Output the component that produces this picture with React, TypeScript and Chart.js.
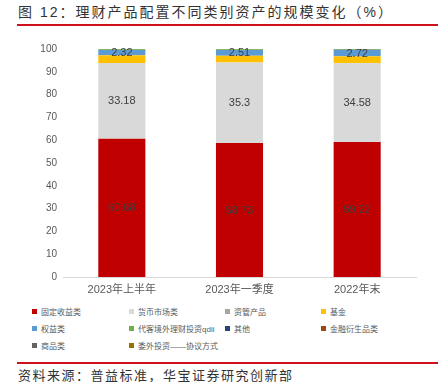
import React, { useEffect, useRef } from "react";
import { Chart, registerables } from "chart.js";

Chart.register(...registerables);

const categories = ["2023年上半年", "2023年一季度", "2022年末"];
const seriesNames = [
  "固定收益类",
  "货币市场类",
  "资管产品",
  "基金",
  "权益类",
  "代客境外理财投资qdii",
  "其他",
  "金融衍生品类",
  "商品类",
  "委外投资——协议方式",
];
const seriesColors = [
  "#C00000",
  "#D9D9D9",
  "#A5A5A5",
  "#FFC000",
  "#5B9BD5",
  "#70AD47",
  "#264478",
  "#9E480E",
  "#636363",
  "#997300",
];
const fixedIncome = [60.68, 58.73, 59.22];
const moneyMarket = [33.18, 35.3, 34.58];
const assetMgmt = [0.05, 0.05, 0.05];
const funds = [3.32, 2.95, 2.95];
const equity = [2.32, 2.51, 2.72];
const qdii = [0.3, 0.3, 0.3];
const others = [0.1, 0.1, 0.1];
const derivatives = [0.02, 0.02, 0.02];
const commodities = [0.01, 0.01, 0.01];
const outsourced = [0.02, 0.02, 0.02];
const seriesValues = [
  fixedIncome,
  moneyMarket,
  assetMgmt,
  funds,
  equity,
  qdii,
  others,
  derivatives,
  commodities,
  outsourced,
];
const labeledSeries = [0, 1, 4];
const yTicks = [0, 10, 20, 30, 40, 50, 60, 70, 80, 90, 100];

const FONT = '"Liberation Sans", "Noto Sans CJK SC", sans-serif';

const labelPlugin = {
  id: "segLabels",
  afterDatasetsDraw(chart: any) {
    const ctx = chart.ctx;
    ctx.save();
    ctx.font = `11px ${FONT}`;
    ctx.fillStyle = "#404040";
    ctx.textAlign = "center";
    ctx.textBaseline = "middle";
    labeledSeries.forEach((di) => {
      const meta = chart.getDatasetMeta(di);
      meta.data.forEach((bar: any, i: number) => {
        const y = (bar.y + bar.base) / 2;
        ctx.fillText(String(seriesValues[di][i]), bar.x, y + 0.5);
      });
    });
    ctx.restore();
  },
};

export default function App() {
  const ref = useRef<HTMLCanvasElement | null>(null);
  useEffect(() => {
    if (!ref.current) return;
    const chart = new Chart(ref.current, {
      type: "bar",
      data: {
        labels: categories,
        datasets: seriesNames.map((name, i) => ({
          label: name,
          data: seriesValues[i],
          backgroundColor: seriesColors[i],
          borderWidth: 0,
          categoryPercentage: 1,
          barPercentage: 0.4,
        })),
      },
      options: {
        animation: false,
        responsive: false,
        devicePixelRatio: 1,
        layout: { padding: { left: 0, right: 23, top: 13, bottom: 0 } },
        plugins: {
          legend: { display: false },
          tooltip: { enabled: false },
          title: { display: false },
        },
        scales: {
          x: {
            stacked: true,
            grid: { display: false, drawTicks: false },
            border: { display: true, color: "#D9D9D9", width: 1 },
            ticks: {
              color: "#595959",
              font: { family: FONT, size: 11 },
              padding: 6,
            },
            afterFit: (s: any) => {
              s.height = 23;
            },
          },
          y: {
            stacked: true,
            min: 0,
            max: 100,
            afterBuildTicks: (s: any) => {
              s.ticks = yTicks.map((v) => ({ value: v }));
            },
            grid: { display: false, drawTicks: false },
            border: { display: false },
            ticks: {
              color: "#595959",
              font: { family: FONT, size: 10 },
              padding: 6,
            },
            afterFit: (s: any) => {
              s.width = 63;
            },
          },
        },
      },
      plugins: [labelPlugin],
    });
    return () => chart.destroy();
  }, []);

  const colX = [32, 129, 225, 321];
  const rowY = [311, 328, 345];

  return (
    <div
      style={{
        position: "fixed",
        left: 0,
        top: 0,
        width: 439,
        height: 382,
        background: "#fff",
        overflow: "hidden",
        fontFamily: FONT,
      }}
    >
      <div
        style={{
          position: "absolute",
          left: 18,
          top: 3,
          fontSize: 14,
          letterSpacing: 2,
          color: "#333",
          whiteSpace: "nowrap",
          lineHeight: "18px",
        }}
      >
        图 12：理财产品配置不同类别资产的规模变化（%）
      </div>
      <div
        style={{
          position: "absolute",
          left: 17,
          top: 24,
          width: 421,
          height: 2,
          background: "#D0101B",
        }}
      />
      <canvas
        ref={ref}
        width={439}
        height={264}
        style={{ position: "absolute", left: 0, top: 36, width: 439, height: 264 }}
      />
      {seriesNames.map((name, i) => (
        <div
          key={name}
          style={{
            position: "absolute",
            left: colX[i % 4],
            top: rowY[Math.floor(i / 4)] - 6,
            height: 12,
            display: "flex",
            alignItems: "center",
            whiteSpace: "nowrap",
            fontSize: 8,
            color: "#595959",
          }}
        >
          <span
            style={{
              display: "inline-block",
              width: 5,
              height: 5,
              background: seriesColors[i],
              marginRight: 4,
            }}
          />
          {name}
        </div>
      ))}
      <div
        style={{
          position: "absolute",
          left: 17,
          top: 362,
          width: 421,
          height: 2,
          background: "#D0101B",
        }}
      />
      <div
        style={{
          position: "absolute",
          left: 18,
          top: 367,
          fontSize: 13,
          letterSpacing: 1.5,
          color: "#333",
          whiteSpace: "nowrap",
          lineHeight: "17px",
        }}
      >
        资料来源：普益标准，华宝证券研究创新部
      </div>
    </div>
  );
}
